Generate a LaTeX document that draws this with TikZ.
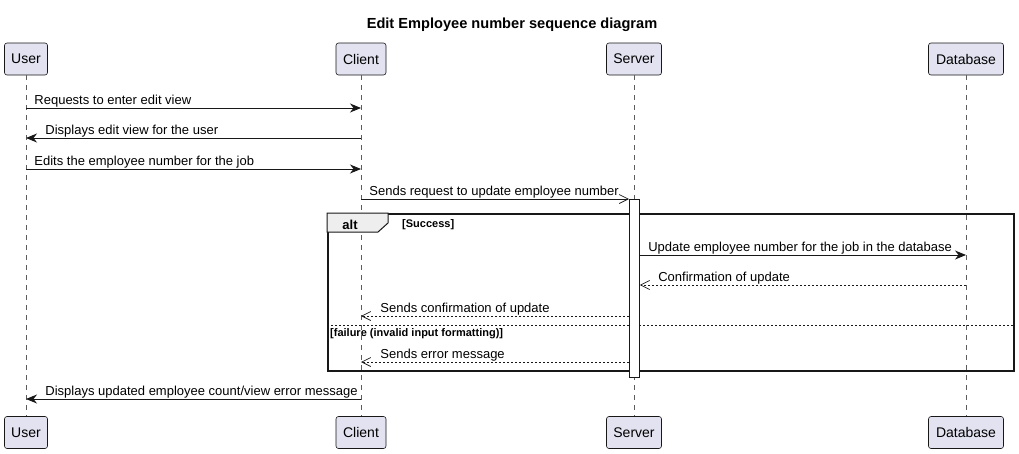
\documentclass[tikz,border=0pt]{standalone}
\usepackage{fontspec}
\setmainfont{Liberation Sans}
\usetikzlibrary{arrows.meta}
\definecolor{pbg}{HTML}{E2E2F0}
\definecolor{pln}{HTML}{181818}
\definecolor{tabbg}{HTML}{EEEEEE}
\begin{document}
\begin{tikzpicture}[x=1pt,y=-1pt,
  part/.style={draw=pln, fill=pbg, rounded corners=2.5pt, line width=0.6pt,
    minimum height=32pt, inner sep=0pt, font=\fontsize{14}{16}\selectfont},
  life/.style={draw=pln!70, line width=0.5pt, dash pattern=on 5pt off 5pt},
  msg/.style={draw=pln, line width=0.9pt, -{Stealth[length=11pt,width=9pt,inset=3.5pt]}},
  amsg/.style={draw=pln, line width=0.9pt, -{Straight Barb[length=9pt,width=9pt,line width=0.7pt]}},
  rmsg/.style={amsg, dash pattern=on 2pt off 2pt},
  lblr/.style={pos=0, anchor=base west, inner sep=0pt, font=\fontsize{13}{15}\selectfont},
  lbll/.style={pos=1, anchor=base west, inner sep=0pt, font=\fontsize{13}{15}\selectfont},
  altframe/.style={draw=pln, line width=1.6pt, inner sep=0pt, anchor=north west},
  actbar/.style={draw=pln, fill=white, line width=0.9pt, inner sep=0pt, anchor=north west,
    minimum width=10pt, minimum height=178pt},
  guard/.style={anchor=base west, inner sep=0pt, font=\bfseries\fontsize{11}{13}\selectfont}
]
\useasboundingbox (0,0) rectangle (1019,453);
\fill[white] (0,0) rectangle (1019,453);

% title
\node[anchor=base, inner sep=0pt, font=\bfseries\fontsize{14.6}{17}\selectfont] (title) at (512,28) {Edit Employee number sequence diagram};

% participants
\node[part, minimum width=43pt] (uT) at (26,59) {User};
\node[part, minimum width=50pt] (cT) at (361,59) {Client};
\node[part, minimum width=55pt] (sT) at (634,59) {Server};
\node[part, minimum width=75pt] (dT) at (966,59) {Database};
\node[part, minimum width=43pt] (uB) at (26,432.5) {User};
\node[part, minimum width=50pt] (cB) at (361,432.5) {Client};
\node[part, minimum width=55pt] (sB) at (634,432.5) {Server};
\node[part, minimum width=75pt] (dB) at (966,432.5) {Database};

% lifelines
\draw[life] (uT.south) -- (uB.north);
\draw[life] (cT.south) -- (cB.north);
\draw[life] (sT.south) -- (sB.north);
\draw[life] (dT.south) -- (dB.north);

% alt frame
\node[altframe, minimum width=686pt, minimum height=157pt] (alt) at (327,213) {};
\filldraw[draw=pln, fill=tabbg, line width=1pt]
  (alt.north west) -- ++(61,0) -- ++(0,10) -- ++(-10,9) -- ++(-51,0) -- cycle;
\node[anchor=base, inner sep=0pt, font=\bfseries\fontsize{13}{15}\selectfont] (altlbl) at (350,229) {alt};
\node[guard] (g1) at (402,227) {[Success]};
\coordinate (ydiv) at (0,325);
\draw[draw=pln, line width=0.9pt, dash pattern=on 2pt off 2pt] (alt.west |- ydiv) -- (alt.east |- ydiv);
\node[guard] (g2) at (330,336) {[failure (invalid input formatting)]};

% activation
\node[actbar] (act) at (629,199) {};

% messages
\coordinate (y1) at (0,108);
\coordinate (y2) at (0,138);
\coordinate (y3) at (0,169);
\coordinate (y4) at (0,199);
\coordinate (y5) at (0,255);
\coordinate (y6) at (0,285);
\coordinate (y7) at (0,316);
\coordinate (y8) at (0,362);
\coordinate (y9) at (0,399);

\draw[msg] (uT |- y1) -- node[lblr, xshift=8pt, yshift=4pt] {Requests to enter edit view} (cT |- y1);
\draw[msg] (cT |- y2) -- node[lbll, xshift=19pt, yshift=4pt] {Displays edit view for the user} (uT |- y2);
\draw[msg] (uT |- y3) -- node[lblr, xshift=8pt, yshift=4pt] {Edits the employee number for the job} (cT |- y3);
\draw[amsg] (cT |- y4) -- node[lblr, xshift=8pt, yshift=4pt] {Sends request to update employee number} (act.west |- y4);
\draw[msg] (act.east |- y5) -- node[lblr, xshift=8pt, yshift=4pt] {Update employee number for the job in the database} (dT |- y5);
\draw[rmsg] (dT |- y6) -- node[lbll, xshift=18pt, yshift=4pt] {Confirmation of update} (act.east |- y6);
\draw[rmsg] (act.west |- y7) -- node[lbll, xshift=19pt, yshift=4pt] {Sends confirmation of update} (cT |- y7);
\draw[rmsg] (act.west |- y8) -- node[lbll, xshift=19pt, yshift=4pt] {Sends error message} (cT |- y8);
\draw[msg] (cT |- y9) -- node[lbll, xshift=19pt, yshift=4pt] {Displays updated employee count/view error message} (uT |- y9);
\end{tikzpicture}
\end{document}
